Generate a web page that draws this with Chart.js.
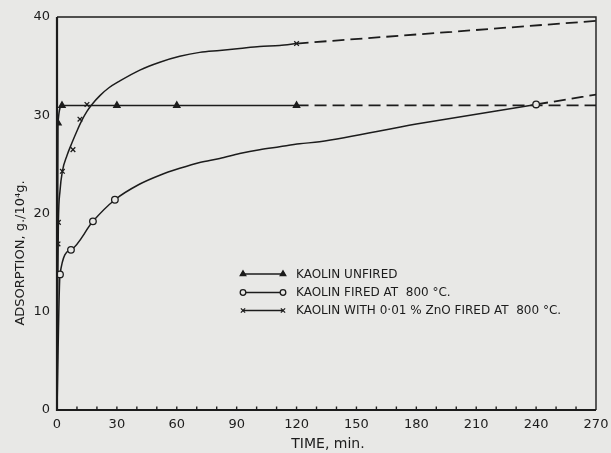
<!DOCTYPE html>
<html>
<head>
<meta charset="utf-8">
<script src="https://cdn.jsdelivr.net/npm/chart.js@4.4.1/dist/chart.umd.min.js"></script>
<style>
html,body{margin:0;padding:0;background:#e8e8e6;}
#wrap{width:611px;height:453px;}
</style>
</head>
<body>
<div id="wrap"><canvas id="c" width="611" height="453"></canvas></div>
<script>
// ---- data ----
const xTicks = [0, 30, 60, 90, 120, 150, 180, 210, 240, 270];
const yTicks = [0, 10, 20, 30, 40];
const legendLabels = ["KAOLIN UNFIRED", "KAOLIN FIRED AT  800 °C.", "KAOLIN WITH 0·01 % ZnO FIRED AT  800 °C."];
const xTitle = "TIME, min.";
const yTitle = "ADSORPTION, g./10⁴g.";

// Kaolin unfired (triangles)
const unfiredT = [0.5, 2.5, 30, 60, 120];
const unfiredV = [29.2, 31.0, 31.0, 31.0, 31.0];
const unfiredCurveT = [0, 0.5, 2.5, 30, 60, 120];
const unfiredCurveV = [0, 29.2, 31.0, 31.0, 31.0, 31.0];
const unfiredDashT = [120, 270];
const unfiredDashV = [31.0, 31.0];

// Kaolin fired at 800 C (open circles)
const firedT = [1.5, 7, 18, 29, 240];
const firedV = [13.8, 16.3, 19.2, 21.4, 31.1];
const firedCurveT = [0, 1.5, 7, 18, 29, 41.5, 51.5, 61.5, 71.5, 81.5, 91.5, 101.5, 111.5, 121.5, 131.5, 180, 240];
const firedCurveV = [0, 13.8, 16.3, 19.2, 21.4, 23.0, 23.9, 24.6, 25.2, 25.6, 26.1, 26.5, 26.8, 27.1, 27.3, 29.1, 31.1];
const firedDashT = [240, 270];
const firedDashV = [31.1, 32.1];

// Kaolin with 0.01% ZnO fired at 800 C (crosses)
const znoT = [0.5, 0.7, 2.7, 8.0, 11.5, 15, 120];
const znoV = [16.9, 19.1, 24.3, 26.5, 29.6, 31.1, 37.3];
const znoCurveT = [0, 0.3, 0.7, 1.5, 2.7, 5, 7.5, 10, 12.5, 15, 17.5, 21.5, 26, 31.5, 41.5, 51.5, 61.5, 71.5, 81.5, 91.5, 101.5, 111.5, 120];
const znoCurveV = [0, 12.0, 19.1, 22.3, 24.3, 25.9, 27.2, 28.4, 29.5, 30.4, 31.1, 32.0, 32.8, 33.5, 34.6, 35.4, 36.0, 36.4, 36.6, 36.8, 37.0, 37.1, 37.3];
const znoDashT = [120, 270];
const znoDashV = [37.3, 39.6];

// ---- helpers ----
const INK = '#1c1c1c';
const PAPER = '#e8e8e6';
const pts = (t, v) => t.map((x, i) => ({x: x, y: v[i]}));

function lineDS(t, v, dashed) {
  return {
    data: pts(t, v), showLine: true, pointRadius: 0, borderColor: INK,
    borderWidth: dashed ? 1.8 : 1.5, borderDash: dashed ? [12, 6] : [],
    cubicInterpolationMode: 'monotone', fill: false, order: 2
  };
}
function markDS(t, v, style) {
  return {
    data: pts(t, v), showLine: false, pointStyle: style,
    pointRadius: style === 'triangle' ? 3.6 : 3.3,
    pointBorderWidth: 1.3, pointBorderColor: INK,
    pointBackgroundColor: style === 'triangle' ? INK : PAPER, order: 0
  };
}

const deco = {
  id: 'deco',
  beforeDraw(chart) {
    const c = chart.ctx;
    c.save();
    c.fillStyle = PAPER;
    c.fillRect(0, 0, chart.width, chart.height);
    c.restore();
  },
  afterDatasetsDraw(chart) {
    const c = chart.ctx, a = chart.chartArea;
    const xs = chart.scales.x;
    c.save();
    // frame
    c.strokeStyle = INK;
    c.lineWidth = 1.4;
    c.beginPath();
    c.moveTo(a.left, a.top); c.lineTo(a.right, a.top); c.lineTo(a.right, a.bottom);
    c.stroke();
    c.lineWidth = 2.2;
    c.beginPath();
    c.moveTo(a.left, a.top); c.lineTo(a.left, a.bottom); c.lineTo(a.right, a.bottom);
    c.stroke();
    // inward minor ticks every 10 min
    c.lineWidth = 1.4;
    for (let t = 10; t < 270; t += 10) {
      const px = xs.getPixelForValue(t);
      c.beginPath(); c.moveTo(px, a.bottom); c.lineTo(px, a.bottom - 3.5); c.stroke();
    }
    // legend
    const rows = [274, 292.5, 310.5];
    const styles = ['triangle', 'circle', 'crossRot'];
    const x0 = 243, x1 = 283;
    c.font = '12px "DejaVu Sans"';
    c.textBaseline = 'middle';
    c.fillStyle = INK;
    rows.forEach((y, i) => {
      c.lineWidth = 1.3; c.strokeStyle = INK;
      c.beginPath(); c.moveTo(x0, y); c.lineTo(x1, y); c.stroke();
      [x0, x1].forEach(px => {
        if (i === 1) {
          c.fillStyle = PAPER;
          c.beginPath(); c.arc(px, y, 2.8, 0, Math.PI * 2); c.fill(); c.stroke();
        } else {
          c.fillStyle = INK;
          Chart.helpers.drawPoint(c, {pointStyle: styles[i], radius: i === 0 ? 3.2 : 3, borderWidth: 1.2}, px, y);
          if (i === 0) c.fill();
        }
      });
      c.fillStyle = INK;
      c.fillText(legendLabels[i], 296, y + 0.5);
    });
    // axis titles
    c.textAlign = 'center';
    c.font = '14px "DejaVu Sans"';
    c.fillText(xTitle, 328, 444);
    c.font = '13px "DejaVu Sans"';
    c.translate(21, 253);
    c.rotate(-Math.PI / 2);
    c.fillText(yTitle, 0, 0);
    c.restore();
  }
};

new Chart(document.getElementById('c'), {
  type: 'scatter',
  data: {
    datasets: [
      markDS(unfiredT, unfiredV, 'triangle'),
      markDS(firedT, firedV, 'circle'),
      markDS(znoT, znoV, 'crossRot'),
      lineDS(unfiredCurveT, unfiredCurveV, false),
      lineDS(unfiredDashT, unfiredDashV, true),
      lineDS(firedCurveT, firedCurveV, false),
      lineDS(firedDashT, firedDashV, true),
      lineDS(znoCurveT, znoCurveV, false),
      lineDS(znoDashT, znoDashV, true)
    ]
  },
  options: {
    responsive: false, animation: false,
    layout: {padding: {top: 17, right: 15, left: 0, bottom: 0}},
    plugins: {legend: {display: false}, tooltip: {enabled: false}},
    scales: {
      x: {
        type: 'linear', min: 0, max: 270,
        afterBuildTicks(s) { s.ticks = xTicks.map(v => ({value: v})); },
        afterFit(s) { s.height = 43; s.paddingLeft = 0; s.paddingRight = 0; },
        grid: {display: false, drawTicks: false},
        border: {display: false},
        ticks: {color: INK, font: {family: 'DejaVu Sans', size: 13}, padding: 7, maxRotation: 0}
      },
      y: {
        type: 'linear', min: 0, max: 40,
        afterBuildTicks(s) { s.ticks = yTicks.map(v => ({value: v})); },
        afterFit(s) { s.width = 57; s.paddingTop = 0; s.paddingBottom = 0; },
        grid: {display: false, drawTicks: false},
        border: {display: false},
        ticks: {color: INK, font: {family: 'DejaVu Sans', size: 13}, padding: 7}
      }
    }
  },
  plugins: [deco]
});
</script>
</body>
</html>
